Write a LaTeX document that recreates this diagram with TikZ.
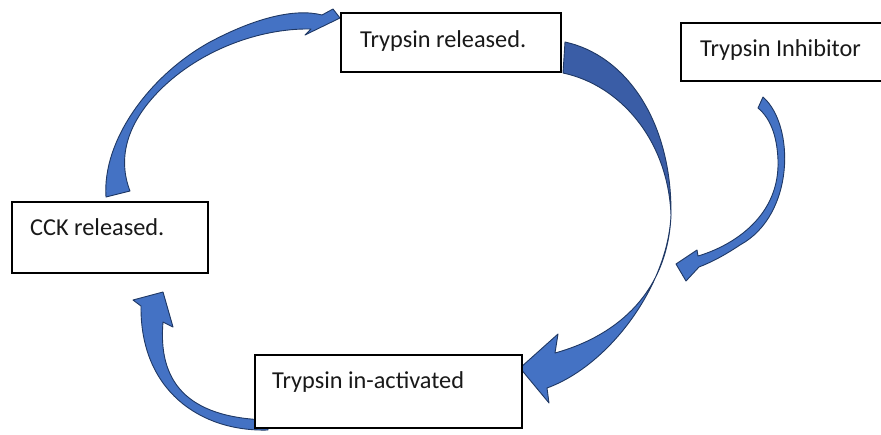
\documentclass[tikz,border=0pt]{standalone}
\usepackage{fontspec}
\setmainfont{Carlito}
\definecolor{arrlight}{HTML}{4472C4}
\definecolor{arrdark}{HTML}{3A5DA6}
\definecolor{arredge}{HTML}{1F3864}
\begin{document}
\begin{tikzpicture}[x=1pt,y=-1pt,
  arrowshape/.style={fill=arrlight, draw=arredge, line width=0.9pt, line join=round},
  box/.style={draw=black, line width=1.4pt, fill=white, rectangle, inner sep=0pt},
  lbl/.style={anchor=base west, inner sep=0pt, text=black!90, font=\fontsize{24.3}{29}\selectfont}]
\useasboundingbox (0,0) rectangle (881,434);

% arrow 1: CCK -> Trypsin released
\path[arrowshape] (106,197) .. controls (102,140) and (150,75) .. (210,42)
   .. controls (255,18) and (295,8) .. (322,15)
   -- (333,9) -- (340,18) -- (305,35) -- (311,29)
   .. controls (260,28) and (200,50) .. (160,90)
   .. controls (125,125) and (118,160) .. (130,191) -- cycle;

% arrow 2: Trypsin released -> Trypsin in-activated (dark back part)
\path[arrowshape, fill=arrdark] (565,42) .. controls (625,55) and (672,120) .. (671,215)
   .. controls (668,140) and (620,85) .. (563,73) -- cycle;
% front part with head
\path[arrowshape] (671,215) .. controls (668,285) and (610,365) .. (547,388)
   -- (549,403) -- (520,368) -- (558,334) -- (555,353)
   .. controls (620,335) and (668,290) .. (671,215) -- cycle;

% arrow 3: Trypsin Inhibitor -> cycle
\path[arrowshape] (763,97) .. controls (795,125) and (795,215) .. (740,245)
   .. controls (725,255) and (712,262) .. (699,267)
   -- (686,281) -- (676,264) -- (697,250) -- (698,256)
   .. controls (735,245) and (780,215) .. (778,160)
   .. controls (777,135) and (770,118) .. (758,108) -- cycle;

% arrow 4: Trypsin in-activated -> CCK
\path[arrowshape] (268,430) .. controls (200,432) and (140,390) .. (141,306)
   -- (133,300) -- (163,292) -- (173,327) -- (163,322)
   .. controls (158,380) and (185,418) .. (268,420) -- cycle;

% boxes
\node[box, minimum width=220pt, minimum height=59pt] (trbox) at (451,42.5) {};
\node[box, minimum width=209pt, minimum height=58pt] (inbox) at (785.5,52) {};
\node[box, minimum width=196pt, minimum height=71pt] (cckbox) at (110,237.5) {};
\node[box, minimum width=267pt, minimum height=73pt] (tiabox) at (388.5,391.5) {};

% labels
\node[lbl] (trtext) at (360,47) {Trypsin released.};
\node[lbl] (intext) at (700,56) {Trypsin Inhibitor};
\node[lbl] (ccktext) at (30,235) {CCK released.};
\node[lbl] (tiatext) at (272,388) {Trypsin in-activated};
\end{tikzpicture}
\end{document}
